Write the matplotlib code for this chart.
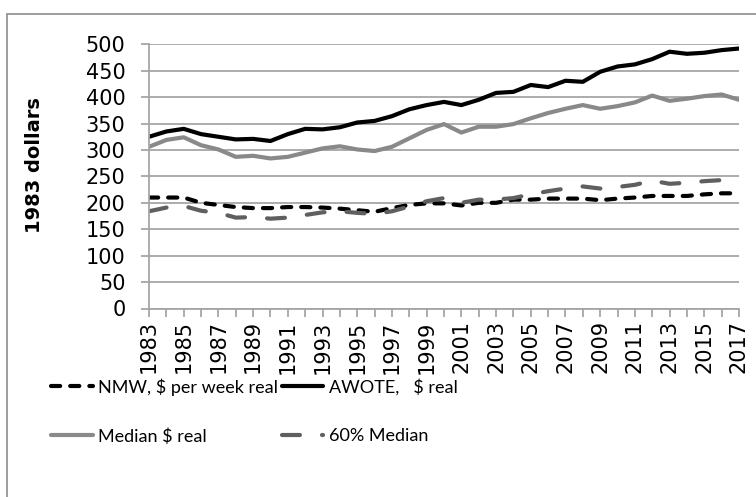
import matplotlib.pyplot as plt
from matplotlib.patches import Rectangle

plt.rcParams['font.family'] = ['DejaVu Sans']

years = list(range(1983, 2018))
nmw = [210, 210, 210, 200, 196, 192, 190, 190, 192, 192,
       191, 189, 186, 183, 190, 196, 199, 199, 195, 200,
       200, 206, 206, 208, 208, 208, 205, 208, 210, 213,
       213, 213, 216, 218, 218]
awote = [325, 335, 340, 330, 325, 320, 321, 317, 330, 340,
         339, 343, 352, 355, 364, 377, 385, 391, 385, 395,
         408, 410, 423, 419, 431, 429, 448, 458, 462, 472,
         486, 482, 484, 489, 492]
median = [306, 319, 324, 309, 301, 287, 289, 284, 287, 295,
          303, 307, 301, 298, 306, 322, 338, 349, 333, 344,
          344, 349, 360, 370, 378, 385, 378, 383, 390, 403,
          393, 397, 402, 405, 395]
median60 = [184, 191, 194, 185, 181, 172, 173, 170, 172, 177,
            182, 184, 181, 179, 184, 193, 203, 209, 200, 206,
            206, 209, 216, 222, 227, 231, 227, 230, 234, 242,
            236, 238, 241, 243, 237]

# only every second year gets a label
tick_labels = [str(y) if (y - 1983) % 2 == 0 else '' for y in years]

grid_col = '#a6a6a6'
fig = plt.figure(figsize=(7.56, 4.97), dpi=100)
ax = fig.add_axes([149 / 756, 188.5 / 497, 590 / 756, 264.2 / 497])

ax.plot(years, nmw, color='black', lw=3, dashes=(2.2, 2.4),
        dash_capstyle='round', label='NMW, $ per week real')
ax.plot(years, awote, color='black', lw=3, solid_capstyle='round',
        label='AWOTE,   $ real')
ax.plot(years, median, color='#898989', lw=3, solid_capstyle='round',
        label='Median $ real')
ax.plot(years, median60, color='#5f5f5f', lw=3, dashes=(4.3, 5.3),
        dash_capstyle='round', label='60% Median')

ax.set_xlim(1983, 2017)
ax.set_ylim(0, 500)
ax.set_yticks(range(0, 501, 50))
ax.set_xticks(years)
ax.set_xticklabels(tick_labels)
ax.yaxis.grid(True, color=grid_col, lw=1.3)
ax.set_axisbelow(True)
for s in ['top', 'right']:
    ax.spines[s].set_visible(False)
for s in ['left', 'bottom']:
    ax.spines[s].set_color(grid_col)
    ax.spines[s].set_linewidth(1.3)
ax.tick_params(axis='y', direction='out', length=6, width=1.3,
               color=grid_col, labelsize=15, pad=11)
ax.tick_params(axis='x', direction='out', length=5.5, width=1.3,
               color=grid_col, labelsize=15, pad=3, labelrotation=90)

fig.text(35 / 756, 332 / 497, '1983 dollars', rotation=90, ha='center',
         va='center', fontsize=14, fontweight='bold')

h, l = ax.get_legend_handles_labels()
order = [0, 2, 1, 3]
fig.legend([h[i] for i in order], [l[i] for i in order], ncol=2,
           loc='upper left', bbox_to_anchor=(42 / 756, 128 / 497),
           frameon=False, handlelength=2.3, handletextpad=0.3,
           columnspacing=0.2, labelspacing=1.8, borderpad=0,
           prop={'family': ['Lato'], 'size': 13})

fig.patches.append(Rectangle((7 / 756, -0.1), 1.2, (483 / 497) + 0.1,
                             transform=fig.transFigure, fill=False,
                             edgecolor='#8c8c8c', lw=1.2))

fig.savefig('out.png', dpi=100)
